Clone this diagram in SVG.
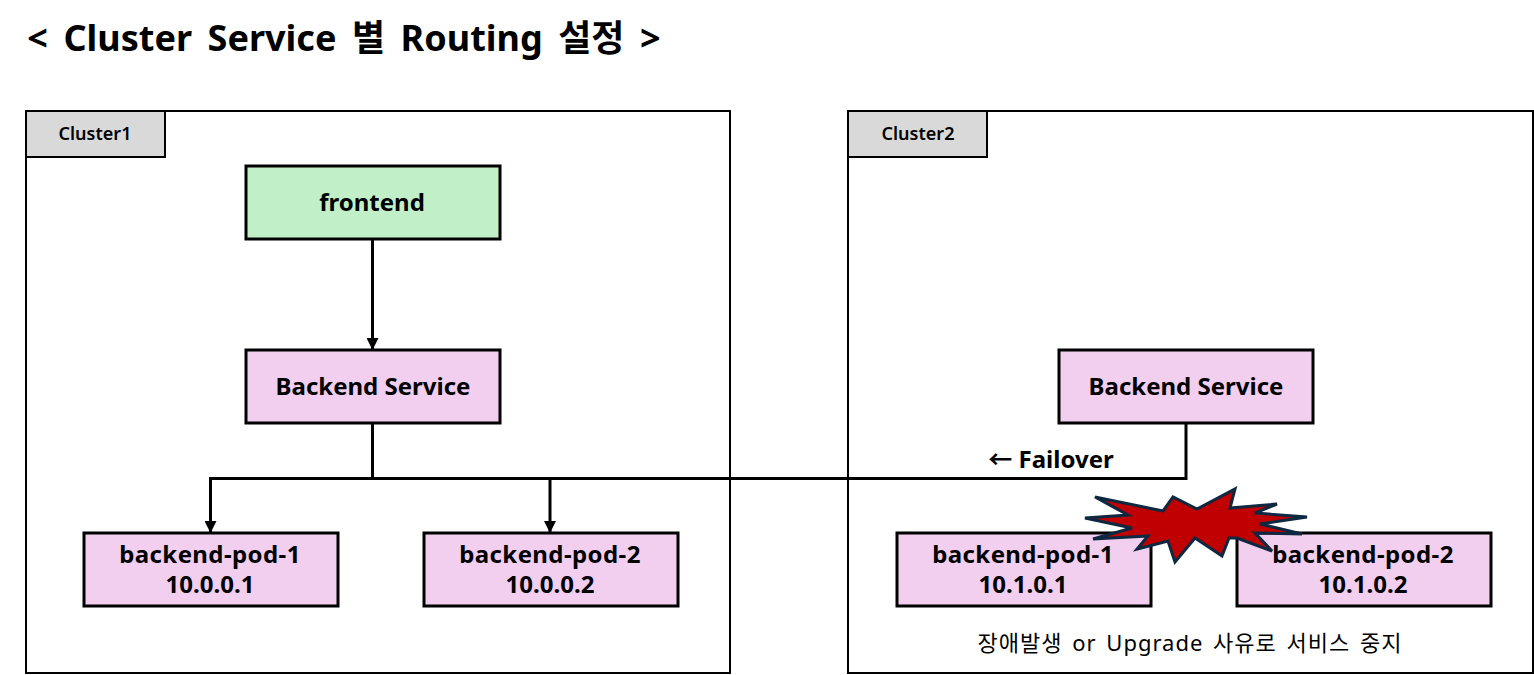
<svg xmlns="http://www.w3.org/2000/svg" width="1534" height="675" viewBox="0 0 1534 675">
<style>
text{font-family:"Noto Sans","Noto Sans CJK KR",sans-serif;fill:#000;text-anchor:middle}
.c{fill:#fff;stroke:#000;stroke-width:2}
.t{fill:#d9d9d9;stroke:#000;stroke-width:2}
.p{fill:#f2ceef;stroke:#000;stroke-width:3}
.g{fill:#c1f0c8;stroke:#000;stroke-width:3}
.l{font-size:24px;font-weight:700}
.n{letter-spacing:.4px}
.s{font-size:18px;font-weight:600}
.w{fill:none;stroke:#000;stroke-width:3}
</style>
<defs><marker id="a" markerWidth="12" markerHeight="12" refX="11" refY="6" orient="auto" markerUnits="userSpaceOnUse"><path d="M0,0L12,6L0,12Z" fill="#000"/></marker></defs>
<text x="344" y="51" style="font-size:36px;font-weight:700;word-spacing:6.200px">&lt; Cluster Service 별 Routing 설정 &gt;</text>
<g id="cluster1"><rect class="c" x="26" y="111" width="704" height="562"/><rect class="t" x="26" y="111" width="139" height="46"/><text class="s" x="95" y="140">Cluster1</text></g>
<g id="cluster2"><rect class="c" x="848" y="111" width="685" height="562"/><rect class="t" x="848" y="111" width="139" height="46"/><text class="s" x="918" y="140">Cluster2</text></g>
<g id="connectors">
<path class="w" d="M372.500 239V349" marker-end="url(#a)"/>
<path class="w" d="M372.500 423V478.500"/>
<path class="w" d="M1186 423V478.500H210.500V532" marker-end="url(#a)"/>
<path class="w" d="M550 478.500V532" marker-end="url(#a)"/>
</g>
<g id="frontend"><rect class="g" x="246" y="166" width="254" height="73"/><text class="l" x="372" y="211">frontend</text></g>
<g id="backend-service-1"><rect class="p" x="246" y="350" width="254" height="73"/><text class="l" x="373" y="395">Backend Service</text></g>
<g id="c1-pod-1"><rect class="p" x="84" y="533" width="254" height="73"/><text class="l n" x="210" y="563">backend-pod-1</text><text class="l" x="210" y="593">10.0.0.1</text></g>
<g id="c1-pod-2"><rect class="p" x="424" y="533" width="254" height="73"/><text class="l n" x="550" y="563">backend-pod-2</text><text class="l" x="550" y="593">10.0.0.2</text></g>
<g id="backend-service-2"><rect class="p" x="1059" y="350" width="254" height="73"/><text class="l" x="1186" y="395">Backend Service</text></g>
<g id="c2-pod-1"><rect class="p" x="897" y="533" width="254" height="73"/><text class="l n" x="1023" y="563">backend-pod-1</text><text class="l" x="1023" y="593">10.1.0.1</text></g>
<g id="c2-pod-2"><rect class="p" x="1237" y="533" width="254" height="73"/><text class="l n" x="1363" y="563">backend-pod-2</text><text class="l" x="1363" y="593">10.1.0.2</text></g>
<text x="1051" y="468" style="font-size:24px;font-weight:700">← Failover</text>
<g id="burst"><polygon fill="#c00000" stroke="#0e2841" stroke-width="3" stroke-linejoin="miter" points="1095,497 1163,511 1173,497 1197,509 1235,489 1230,508 1277,504 1255,513 1307,517 1260,524 1302,534 1255,533 1272,551 1237,538 1229,538 1222,556 1195,538 1175,562 1168,541 1137,549 1148,536 1093,539 1132,528 1085,518 1128,515"/></g>
<text x="1190" y="651" style="font-size:22px;letter-spacing:1px;word-spacing:3px">장애발생 or Upgrade 사유로 서비스 중지</text>
</svg>
